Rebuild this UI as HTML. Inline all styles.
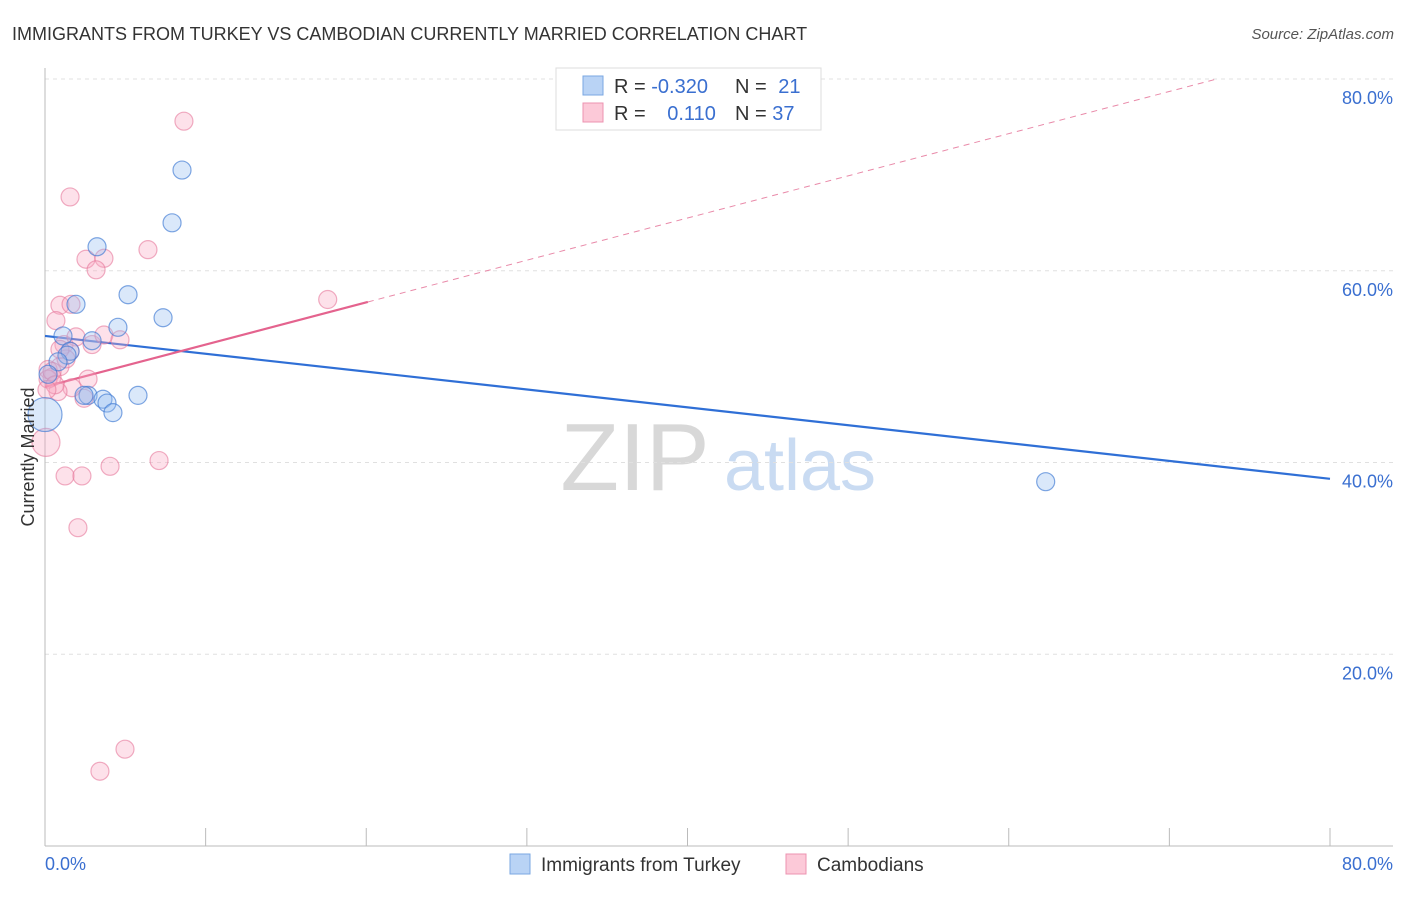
<!DOCTYPE html>
<html><head><meta charset="utf-8"><style>
body{margin:0;background:#fff;font-family:"Liberation Sans",sans-serif}
svg text{font-family:"Liberation Sans",sans-serif}
</style></head><body>
<svg id="chart" width="1406" height="892" xmlns="http://www.w3.org/2000/svg">
<text x="12" y="40" font-size="18" fill="#333">IMMIGRANTS FROM TURKEY VS CAMBODIAN CURRENTLY MARRIED CORRELATION CHART</text>
<text x="1394" y="39" font-size="15" fill="#555" font-style="italic" text-anchor="end">Source: ZipAtlas.com</text>
<g>
<text x="635" y="490" font-size="96" fill="#d8d8d8" font-family="Liberation Serif" text-anchor="middle">ZIP</text>
<text x="800" y="490" font-size="72" fill="#c9dbf2" text-anchor="middle">atlas</text>
</g>
<g id="grid"></g>
<g id="axes"></g>
<g id="trends"></g>
<g id="points"></g>
<text x="34" y="457" font-size="18" fill="#333" transform="rotate(-90 34 457)" text-anchor="middle">Currently Married</text>
<g>
<rect x="556" y="68" width="265" height="62" fill="#fff" stroke="#ddd"/>
<rect x="583" y="76" width="20" height="19" fill="#b9d3f5" stroke="#7aa7e2"/>
<rect x="583" y="103" width="20" height="19" fill="#fcc9d8" stroke="#ec93b0"/>
<text x="614" y="93" font-size="20" fill="#333">R = <tspan fill="#3a6fd0">-0.320</tspan></text>
<text x="735" y="93" font-size="20" fill="#333">N = <tspan fill="#3a6fd0" dx="6">21</tspan></text>
<text x="614" y="120" font-size="20" fill="#333">R = <tspan fill="#3a6fd0" dx="16">0.110</tspan></text>
<text x="735" y="120" font-size="20" fill="#333">N = <tspan fill="#3a6fd0">37</tspan></text>
</g>
<g>
<rect x="510" y="854" width="20" height="20" fill="#b9d3f5" stroke="#7aa7e2"/>
<text x="541" y="871" font-size="19" fill="#333">Immigrants from Turkey</text>
<rect x="786" y="854" width="20" height="20" fill="#fcc9d8" stroke="#ec93b0"/>
<text x="817" y="871" font-size="19" fill="#333">Cambodians</text>
</g>
</svg>
<script>
const xTicks=[0,10,20,30,40,50,60,70,80];
const yTicks=[20,40,60,80];
const yTickLabels=["20.0%","40.0%","60.0%","80.0%"];
const xEndLabels=["0.0%","80.0%"];
const turkeyX=[8.53,7.91,3.24,5.17,1.93,7.35,4.54,1.12,2.93,1.56,1.37,0.81,0.19,5.79,2.68,2.43,3.61,3.86,4.23,0,62.3];
const turkeyY=[70.5,65.0,62.5,57.5,56.5,55.1,54.1,53.2,52.7,51.6,51.2,50.5,49.2,47.0,47.0,47.0,46.6,46.2,45.2,45.0,38.0];
const turkeyR=[9,9,9,9,9,9,9,9,9,9,9,9,9,9,9,9,9,9,9,17,9];
const cambX=[8.65,1.56,6.41,2.55,3.67,3.18,17.6,0.93,1.62,0.68,1.18,1.93,2.93,3.67,1.56,0.93,0.19,0.44,1.31,2.68,1.68,0.81,2.43,0.19,0.06,1.25,2.30,4.05,7.10,2.05,4.98,3.42,0.44,0.62,0.93,0.12,4.67];
const cambY=[75.6,67.7,62.2,61.2,61.3,60.1,57.0,56.4,56.5,54.8,52.3,53.1,52.3,53.3,51.6,50.0,49.7,48.9,50.8,48.7,47.8,47.4,46.7,48.7,42.1,38.6,38.6,39.6,40.2,33.2,10.1,7.8,49.5,48.1,51.8,47.6,52.8];
const cambR=[9,9,9,9,9,9,9,9,9,9,9,9,9,9,9,9,9,9,9,9,9,9,9,9,14,9,9,9,9,9,9,9,9,9,9,9,9];
const turkeyTrend=[53.2,38.3]; // y at x=0 and x=80
const cambTrend=[47.9,0.44]; // intercept, slope
const cambSolidEnd=20.1;
const NS="http://www.w3.org/2000/svg";
const X0=45,X1=1330,Y0=846,Y80=79;
const sx=v=>X0+(X1-X0)*v/80;
const sy=v=>Y0-(Y0-Y80)*v/80;
function mk(tag,attrs,parent){const e=document.createElementNS(NS,tag);for(const k in attrs)e.setAttribute(k,attrs[k]);parent.appendChild(e);return e;}
const grid=document.getElementById('grid'),axes=document.getElementById('axes'),tr=document.getElementById('trends'),pts=document.getElementById('points');
yTicks.forEach((t,i)=>{
 const l=mk('line',{x1:X0,x2:1393,y1:sy(t),y2:sy(t),stroke:'#e0e0e0','stroke-dasharray':'4,4'},grid);
 
 
 const tx=mk('text',{x:1393,y:sy(t)+25,'font-size':18,fill:'#3a6fd0','text-anchor':'end'},grid);
 tx.textContent=yTickLabels[i];
 
 
});
const ya=mk('line',{x1:X0,x2:X0,y1:68,y2:Y0,stroke:'#bbb'},axes);


const xa=mk('line',{x1:X0,x2:1393,y1:Y0,y2:Y0,stroke:'#bbb'},axes);


xTicks.forEach(t=>{
 const l=mk('line',{x1:sx(t),x2:sx(t),y1:828,y2:Y0,stroke:'#bbb'},axes);
 
 
});
[[0,'start'],[80,'end']].forEach(([v,a],i)=>{
 const t=mk('text',{x:i?1393:45,y:870,'font-size':18,fill:'#3a6fd0','text-anchor':a},axes);
 t.textContent=xEndLabels[i];
 
 
});
// trends
const bt=mk('line',{x1:sx(0),y1:sy(turkeyTrend[0]),x2:sx(80),y2:sy(turkeyTrend[1]),stroke:'#2f6fd6','stroke-width':2.2},tr);


const xEnd=(80-cambTrend[0])/cambTrend[1];
const pd=mk('line',{x1:sx(cambSolidEnd),y1:sy(cambTrend[0]+cambTrend[1]*cambSolidEnd),x2:sx(xEnd),y2:sy(80),stroke:'#e98aa9','stroke-width':1,'stroke-dasharray':'6,5'},tr);


const ps=mk('line',{x1:sx(0),y1:sy(cambTrend[0]),x2:sx(cambSolidEnd),y2:sy(cambTrend[0]+cambTrend[1]*cambSolidEnd),stroke:'#e4638e','stroke-width':2.2},tr);


cambX.forEach((x,i)=>{
 const c=mk('circle',{cx:sx(x),cy:sy(cambY[i]),r:cambR[i],fill:'rgba(248,170,195,0.35)',stroke:'rgba(230,120,155,0.6)','stroke-width':1.2},pts);
 
 
});
turkeyX.forEach((x,i)=>{
 const c=mk('circle',{cx:sx(x),cy:sy(turkeyY[i]),r:turkeyR[i],fill:'rgba(150,190,240,0.35)',stroke:'rgba(60,120,210,0.65)','stroke-width':1.2},pts);
 
 
});
</script>
</body></html>
